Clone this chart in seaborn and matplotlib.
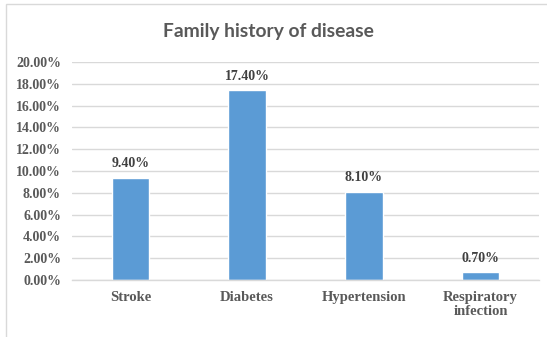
import matplotlib
matplotlib.use("Agg")
import matplotlib.pyplot as plt
from matplotlib.patches import Rectangle
from matplotlib.ticker import FuncFormatter, MultipleLocator
import seaborn as sns
import pandas as pd

categories = ["Stroke", "Diabetes", "Hypertension", "Respiratory\ninfection"]
values = [9.4, 17.4, 8.1, 0.7]
title = "Family history of disease"

sns.set_theme(style="white")
plt.rcParams["font.family"] = ["Liberation Serif", "DejaVu Serif"]

df = pd.DataFrame({"category": categories, "value": values})

fig = plt.figure(figsize=(5.47, 3.37), dpi=100)
ax = fig.add_axes([72 / 547, 1 - 280 / 337, (539 - 72) / 547, (280 - 62) / 337])

sns.barplot(data=df, x="category", y="value", color="#5B9BD5", width=0.32,
            saturation=1, ax=ax)

ax.set_ylim(0, 20)
ax.set_xlim(-0.5, len(categories) - 0.5)
ax.yaxis.set_major_locator(MultipleLocator(2))
ax.yaxis.set_major_formatter(FuncFormatter(lambda v, _: f"{v:.2f}%"))
ax.grid(axis="y", color="#d9d9d9", linewidth=1)
ax.set_axisbelow(True)
for s in ["top", "right", "left"]:
    ax.spines[s].set_visible(False)
ax.spines["bottom"].set_color("#d9d9d9")
ax.spines["bottom"].set_linewidth(1)
ax.set_xlabel("")
ax.set_ylabel("")
ax.tick_params(axis="both", length=0)
ax.tick_params(axis="y", pad=8)
ax.tick_params(axis="x", pad=8)
for lab in ax.get_yticklabels():
    lab.set_fontsize(10)
    lab.set_fontweight("bold")
    lab.set_color("#595959")
for lab in ax.get_xticklabels():
    lab.set_fontsize(10.5)
    lab.set_fontweight("bold")
    lab.set_color("#595959")
    lab.set_linespacing(1.1)

for i, v in enumerate(values):
    ax.annotate(f"{v:.2f}%", (i, v), xytext=(0, 7.5), textcoords="offset points",
                ha="center", va="baseline", fontsize=10, fontweight="bold",
                color="#404040")

fig.text(268 / 547, 1 - 32 / 337, title, ha="center", va="center",
         fontsize=13.9, fontweight="bold", color="#595959", family="Lato")

fig.patches.append(Rectangle((6 / 547, -0.05), 1.2, 1 - 4 / 337 + 0.05,
                             transform=fig.transFigure, fill=False,
                             edgecolor="#d9d9d9", linewidth=1))

fig.savefig("out.png", dpi=100)
